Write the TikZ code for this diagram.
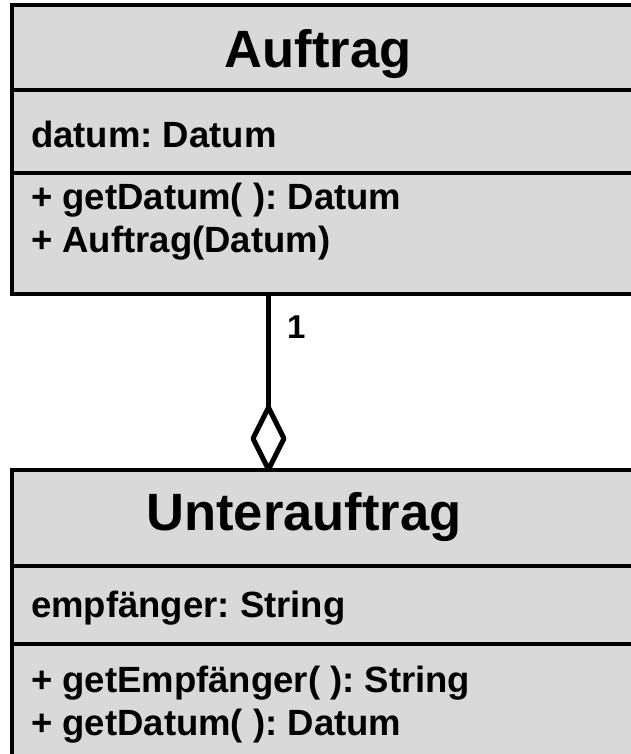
\documentclass[tikz,border=0pt]{standalone}
\usepackage{fontspec}
\setmainfont{Liberation Sans}
\usetikzlibrary{shapes.geometric}
\definecolor{classfill}{RGB}{217,217,217}
\frenchspacing
\begin{document}
\begin{tikzpicture}[x=1pt,y=-1pt,
  classbox/.style={draw=black, fill=classfill, line width=4pt, rectangle,
    inner sep=0pt, outer sep=0pt, anchor=north west},
  divider/.style={draw=black, line width=4pt},
  titletext/.style={font=\bfseries\fontsize{52.5}{52.5}\selectfont,
    anchor=base, inner sep=0pt},
  membertext/.style={font=\bfseries\fontsize{36.5}{36.5}\selectfont,
    anchor=base west, inner sep=0pt},
  multtext/.style={font=\bfseries\fontsize{33}{33}\selectfont,
    anchor=base west, inner sep=0pt},
  aggregation/.style={shape=diamond, draw=black, fill=white, line width=5pt,
    line join=bevel, minimum width=31pt, minimum height=62pt,
    inner sep=0pt, outer sep=0pt},
  link/.style={draw=black, line width=5pt}]
\useasboundingbox (0,0) rectangle (631,754);
\clip (0,0) rectangle (631,754);

% class Auftrag
\node[classbox, minimum width=660pt, minimum height=288pt] (auftrag) at (12,5.5) {};
\draw[divider] (auftrag.west |- 0,90) -- (auftrag.east |- 0,90);
\draw[divider] (auftrag.west |- 0,173) -- (auftrag.east |- 0,173);
\node[titletext] (auftragname) at (318,68) {Auftrag};
\node[membertext] (auftragattr) at (31,148) {datum: Datum};
\node[membertext] (auftragop1) at (31,209) {+ getDatum( ): Datum};
\node[membertext] (auftragop2) at (31,252) {+ Auftrag(Datum)};

% class Unterauftrag
\node[classbox, minimum width=660pt, minimum height=320pt] (unter) at (12,469.5) {};
\draw[divider] (unter.west |- 0,566) -- (unter.east |- 0,566);
\draw[divider] (unter.west |- 0,644) -- (unter.east |- 0,644);
\node[titletext] (untername) at (304,530) {Unterauftrag};
\node[membertext] (unterattr) at (31,617) {empfänger: String};
\node[membertext] (unterop1) at (31,692) {+ getEmpfänger( ): String};
\node[membertext] (unterop2) at (31,735) {+ getDatum( ): Datum};

% aggregation between the classes
\node[aggregation, anchor=south] (agg) at (268.5,469.5) {};
\draw[link] (agg.north) -- (agg.north |- auftrag.south);
\node[multtext] (mult) at (287,338) {1};
\end{tikzpicture}
\end{document}
